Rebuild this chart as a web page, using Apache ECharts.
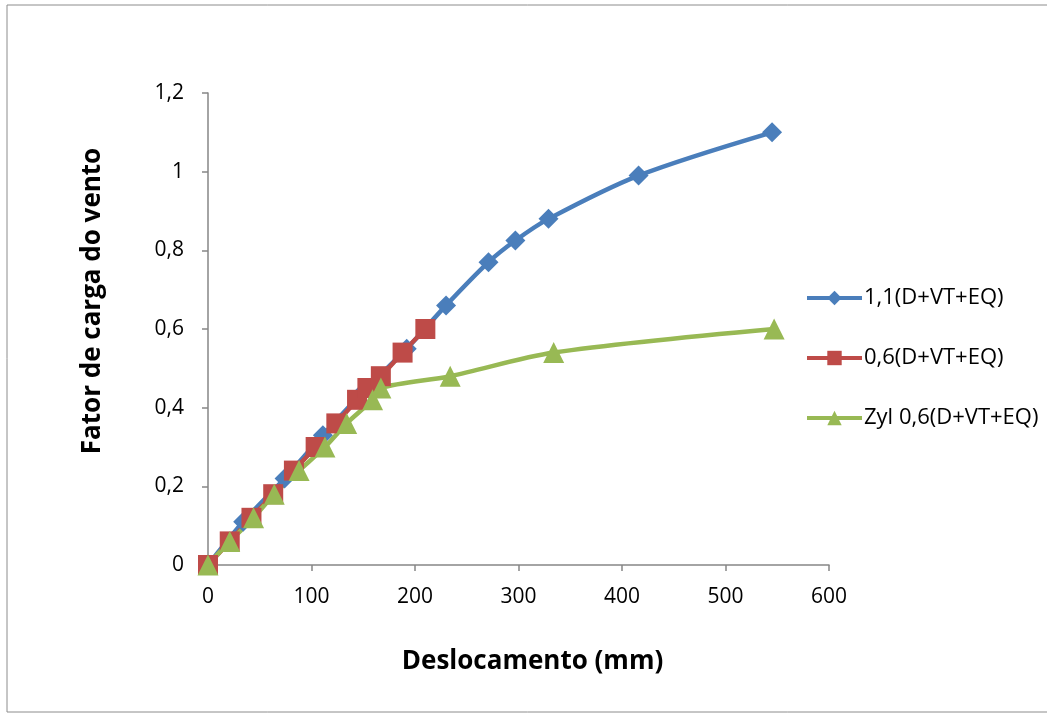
<!DOCTYPE html>
<html>
<head>
<meta charset="utf-8">
<script src="https://cdn.jsdelivr.net/npm/echarts@6/dist/echarts.min.js"></script>
<style>
  html, body { margin: 0; padding: 0; background: #fff; }
  #chart { width: 1047px; height: 713px; }
</style>
</head>
<body>
<div id="chart"></div>
<script>
// valores
var xBlue = [0, 34, 74, 111, 150, 192, 230, 271, 297, 329, 416, 545];
var yBlue = [0, 0.11, 0.22, 0.33, 0.44, 0.55, 0.66, 0.77, 0.825, 0.88, 0.99, 1.1];

var xRed = [0, 21, 42, 63, 83, 104, 124, 144, 154, 167, 188, 210];
var yRed = [0, 0.06, 0.12, 0.18, 0.24, 0.30, 0.36, 0.42, 0.45, 0.48, 0.54, 0.60];

var xGreen = [0, 21, 44, 64, 88, 113, 134, 159, 167, 234, 334, 547];
var yGreen = [0, 0.06, 0.12, 0.18, 0.24, 0.30, 0.36, 0.42, 0.45, 0.48, 0.54, 0.60];

var names = ['1,1(D+VT+EQ)', '0,6(D+VT+EQ)', 'Zyl 0,6(D+VT+EQ)'];

function pares(xs, ys) {
  return xs.map(function (x, i) { return [x, ys[i]]; });
}

var fonte = '"Open Sans", "Liberation Sans", sans-serif';

var chart = echarts.init(document.getElementById('chart'));

var option = {
  animation: false,
  textStyle: { fontFamily: fonte },
  graphic: [{
    type: 'rect',
    shape: { x: 7, y: 5, width: 1050, height: 707 },
    style: { fill: 'none', stroke: '#8c8c8c', lineWidth: 1 }
  }],
  grid: { left: 208, right: 218, top: 93, bottom: 148 },
  legend: {
    orient: 'vertical',
    left: 800,
    top: 282,
    itemGap: 38,
    itemWidth: 55,
    itemHeight: 18,
    lineStyle: { width: 4 },
    textStyle: { fontSize: 22, color: '#000', fontFamily: fonte, padding: [0, 0, 0, -3] },
    data: names
  },
  xAxis: {
    type: 'value',
    min: 0, max: 600, interval: 100,
    name: 'Deslocamento (mm)',
    nameLocation: 'middle',
    nameGap: 84,
    nameTextStyle: { fontSize: 26, fontWeight: 'bold', color: '#000', fontFamily: fonte, padding: [0, 0, 0, 28] },
    axisLine: { lineStyle: { color: '#868686', width: 1.5 } },
    axisTick: { show: true, length: 6, lineStyle: { color: '#868686', width: 1.5 } },
    axisLabel: { fontSize: 21, color: '#000', margin: 22 },
    splitLine: { show: false }
  },
  yAxis: {
    type: 'value',
    min: 0, max: 1.2, interval: 0.2,
    name: 'Fator de carga do vento',
    nameLocation: 'middle',
    nameGap: 102,
    nameTextStyle: { fontSize: 26, fontWeight: 'bold', color: '#000', fontFamily: fonte, padding: [0, 0, 0, 56] },
    axisLine: { show: true, lineStyle: { color: '#868686', width: 1.5 } },
    axisTick: { show: true, length: 6, lineStyle: { color: '#868686', width: 1.5 } },
    axisLabel: {
      fontSize: 21, color: '#000', margin: 24,
      formatter: function (v) { return String(Math.round(v * 10) / 10).replace('.', ','); }
    },
    splitLine: { show: false }
  },
  series: [
    {
      name: names[0], type: 'line', smooth: 0.3,
      data: pares(xBlue, yBlue),
      symbol: 'diamond', symbolSize: 20,
      lineStyle: { color: '#4a7ebb', width: 4.5 },
      itemStyle: { color: '#4a7ebb' }
    },
    {
      name: names[1], type: 'line', smooth: 0.3,
      data: pares(xRed, yRed),
      symbol: 'rect', symbolSize: 20,
      lineStyle: { color: '#be4b48', width: 4.5 },
      itemStyle: { color: '#be4b48' }
    },
    {
      name: names[2], type: 'line', smooth: 0.3,
      data: pares(xGreen, yGreen),
      symbol: 'triangle', symbolSize: 21,
      lineStyle: { color: '#98b954', width: 4.5 },
      itemStyle: { color: '#98b954' }
    }
  ]
};

chart.setOption(option);
</script>
</body>
</html>
